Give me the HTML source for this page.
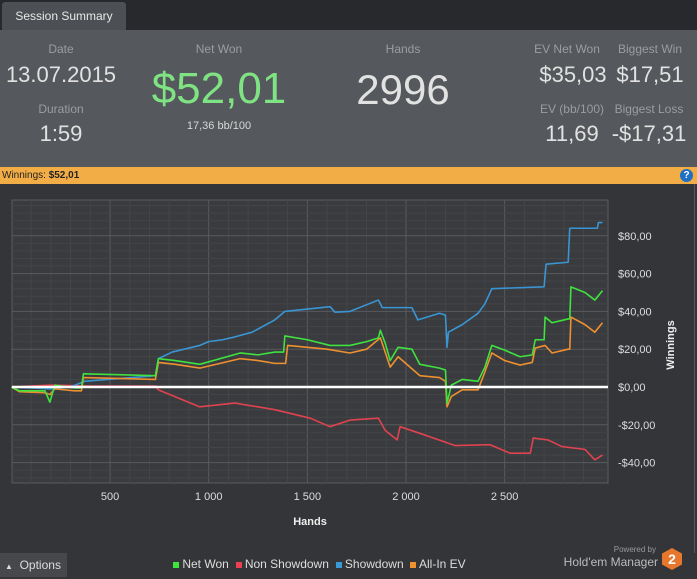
<!DOCTYPE html>
<html><head><meta charset="utf-8">
<style>
*{margin:0;padding:0;box-sizing:border-box}
body{width:697px;height:577px;overflow:hidden;background:#333538;font-family:"Liberation Sans",sans-serif;position:relative}
.abs{position:absolute}
.lbl{color:#9a9da1;font-size:12px;text-align:center;position:absolute}
.val{color:#e2e2e2;font-size:22px;text-align:center;position:absolute}
</style></head><body>
<div class="abs" style="left:0;top:0;width:697px;height:30px;background:#27292c"></div>
<div class="abs" style="left:2px;top:2px;width:124px;height:28px;background:#4c4f53;border-radius:3px 3px 0 0;color:#e8e8e8;font-size:12px;line-height:28px;text-align:center">Session Summary</div>
<div class="abs" style="left:0;top:30px;width:697px;height:137px;background:#55585c">
  <div class="lbl" style="left:21px;top:12px;width:80px">Date</div>
  <div class="val" style="left:0;top:32px;width:122px">13.07.2015</div>
  <div class="lbl" style="left:21px;top:72px;width:80px">Duration</div>
  <div class="val" style="left:21px;top:91px;width:80px">1:59</div>
  <div class="lbl" style="left:169px;top:12px;width:100px">Net Won</div>
  <div class="abs" style="left:119px;top:34px;width:200px;text-align:center;color:#7fe383;font-size:44px">$52,01</div>
  <div class="abs" style="left:169px;top:90px;width:100px;text-align:center;color:#d8d8d8;font-size:11px">17,36 bb/100</div>
  <div class="lbl" style="left:353px;top:12px;width:100px">Hands</div>
  <div class="abs" style="left:323px;top:36px;width:160px;text-align:center;color:#e2e2e2;font-size:42px">2996</div>
  <div class="lbl" style="left:522px;top:12px;width:90px">EV Net Won</div>
  <div class="val" style="left:528px;top:32px;width:90px">$35,03</div>
  <div class="lbl" style="left:610px;top:12px;width:80px">Biggest Win</div>
  <div class="val" style="left:610px;top:32px;width:80px">$17,51</div>
  <div class="lbl" style="left:527px;top:72px;width:90px">EV (bb/100)</div>
  <div class="val" style="left:527px;top:91px;width:90px">11,69</div>
  <div class="lbl" style="left:604px;top:72px;width:90px">Biggest Loss</div>
  <div class="val" style="left:604px;top:91px;width:90px">-$17,31</div>
</div>
<div class="abs" style="left:0;top:167px;width:697px;height:17px;background:#f2ad47;font-size:10px;line-height:17px;color:#222;padding-left:2px">Winnings: <b>$52,01</b>
  <div class="abs" style="right:4px;top:2px;width:13px;height:13px;border-radius:50%;background:#1f6fc4;color:#fff;font-size:10px;line-height:13px;text-align:center;font-weight:bold">?</div>
</div>
<div class="abs" style="left:694px;top:184px;width:1px;height:369px;background:#55585c"></div>
<svg class="abs" id="chart" style="left:0;top:184px" width="697" height="369" viewBox="0 184 697 369"></svg>
<div class="abs" style="left:0;top:553px;width:67px;height:24px;background:#46484b;color:#ddd;font-size:12px;line-height:24px;padding-left:5px"><span style="font-size:8px">&#9650;</span>&nbsp;&nbsp;Options</div>
<div class="abs" style="left:173px;top:557px;font-size:12px;color:#ddd;white-space:nowrap">
  <span><span style="display:inline-block;width:6px;height:6px;background:#3ce63c"></span> Net Won</span>
  <span>&nbsp;<span style="display:inline-block;width:6px;height:6px;background:#e8424e"></span> Non Showdown</span>
  <span>&nbsp;<span style="display:inline-block;width:6px;height:6px;background:#3a9ad8"></span> Showdown</span>
  <span>&nbsp;<span style="display:inline-block;width:6px;height:6px;background:#f0922e"></span> All-In EV</span>
</div>
<div class="abs" style="left:560px;top:545px;width:96px;text-align:right;color:#999;font-size:8px">Powered by</div>
<div class="abs" style="left:548px;top:555px;width:110px;text-align:right;color:#bbb;font-size:12px">Hold'em Manager</div>
<div class="abs" style="left:662px;top:548px;width:20px;height:22px;background:#e8772e;clip-path:polygon(50% 0,100% 25%,100% 75%,50% 100%,0 75%,0 25%);color:#fff;font-weight:bold;font-size:14px;text-align:center;line-height:22px">2</div>
<script>
const xTicks=[500,1000,1500,2000,2500];
const xTickLabels=["500","1 000","1 500","2 000","2 500"];
const yTicks=[-40,-20,0,20,40,60,80];
const yTickLabels=["-$40,00","-$20,00","$0,00","$20,00","$40,00","$60,00","$80,00"];
const netHands=[0,40,170,195,220,320,355,365,730,745,830,955,1160,1250,1335,1380,1386,1500,1615,1716,1800,1860,1870,1895,1920,1960,2030,2070,2170,2200,2208,2230,2285,2365,2400,2435,2500,2578,2640,2655,2700,2705,2740,2822,2830,2836,2907,2957,2996];
const netWon=[0,-2,-2,-8,1,-0.5,-0.5,7,6,15,14,12,18,17,18.5,18.5,27,25,22,22,24,26,30,23,14,21,20,12,10,9,-8.5,1,4,3,10.5,22,19.5,16,17,25,25,37,34,36,36,53,50,46,51];
const evHands=[0,40,170,195,220,320,355,365,730,745,830,955,1160,1250,1335,1390,1400,1600,1716,1800,1870,1920,1960,2070,2170,2200,2208,2230,2285,2365,2400,2435,2500,2578,2640,2655,2705,2740,2822,2830,2836,2907,2957,2996];
const allInEv=[0,-2.5,-3,-4,-1,-2,-2,5,4,13,12,10,15,14,12.5,12.5,22,20,18,20,26,10.5,16,6,5,3,-10.5,-5,-1.5,-1.5,8,18,14,11.6,13,20.6,22,18,20,20,37,33,29,34];
const sdHands=[0,200,300,370,730,745,815,955,1000,1070,1133,1220,1335,1386,1615,1640,1716,1860,1880,2030,2060,2170,2200,2208,2215,2285,2365,2400,2435,2700,2710,2822,2830,2970,2975,2996];
const showdown=[0,-1,0,3,6,15,18.5,22,24,25,26.5,29,35.5,40,42.5,39.6,40,46,42,42,35.5,39,38,21,29,33,39,44,52,53,65,66,84,84,87,87];
const nsdHands=[0,200,400,730,745,850,955,1133,1335,1515,1615,1716,1860,1895,1955,1970,2070,2208,2250,2425,2527,2630,2645,2720,2790,2907,2957,2996];
const nonShowdown=[0,1,0.5,0.5,-1.5,-6,-10.5,-8.5,-12,-16.5,-21,-17.5,-16.5,-23,-28,-21,-24.5,-29.5,-31,-30.5,-35,-35,-27,-28,-31.5,-33,-38.5,-36];

const svg=document.getElementById('chart');
const NS='http://www.w3.org/2000/svg';
const L=12,R=608,T=200,B=483;
function xs(h){return 11.4+h*0.1973;}
function ys(v){return 387-v*1.89;}
function mk(tag,attrs){const e=document.createElementNS(NS,tag);for(const k in attrs)e.setAttribute(k,attrs[k]);svg.appendChild(e);return e;}
const bg=mk('rect',{x:L,y:T,width:R-L,height:B-T,fill:'#393b3e',stroke:'#5a5d60'});


for(let h=100;h<3000;h+=100){const g=mk('line',{x1:xs(h),x2:xs(h),y1:T,y2:B,stroke:h%500===0?'#585b5e':'#434548','stroke-width':1});

}
for(let v=-48;v<=100;v+=4){if(ys(v)<T||ys(v)>B)continue;const g=mk('line',{x1:L,x2:R,y1:ys(v),y2:ys(v),stroke:v%20===0?'#585b5e':'#424447','stroke-width':1});

}
xTicks.forEach((t,i)=>{const e=mk('text',{x:xs(t),y:500,fill:'#ddd','font-size':11,'text-anchor':'middle'});e.textContent=xTickLabels[i];

});
yTicks.forEach((t,i)=>{const e=mk('text',{x:618,y:ys(t)+4,fill:'#ddd','font-size':11});e.textContent=yTickLabels[i];

});
const xt=mk('text',{x:310,y:525,fill:'#eee','font-size':11,'font-weight':'bold','text-anchor':'middle'});xt.textContent='Hands';


const yt=mk('text',{x:674,y:345,fill:'#eee','font-size':11,'font-weight':'bold','text-anchor':'middle',transform:'rotate(-90 674 345)'});yt.textContent='Winnings';


function series(hs,vs,color,name){let d='M'+xs(hs[0])+','+ys(vs[0]);for(let i=1;i<hs.length;i++){d+=' L'+xs(hs[i])+','+ys(vs[i]);}
const p=mk('path',{d:d,fill:'none',stroke:color,'stroke-width':1.6,'stroke-linejoin':'round'});

}
series(nsdHands,nonShowdown,'#e0434f','non-showdown-line');
series(sdHands,showdown,'#3a95d4','showdown-line');
series(evHands,allInEv,'#ee902f','all-in-ev-line');
series(netHands,netWon,'#3fe23f','net-won-line');
const z=mk('line',{x1:L,x2:R,y1:ys(0),y2:ys(0),stroke:'#fff','stroke-width':2.5});


</script>
</body></html>
